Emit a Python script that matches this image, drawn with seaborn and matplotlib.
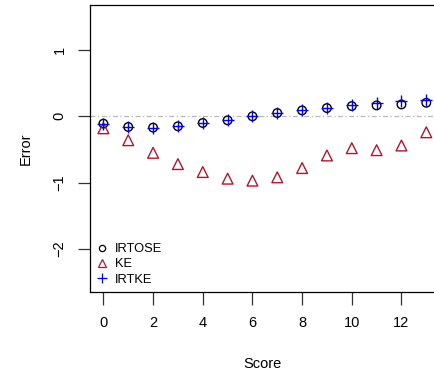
import numpy as np
import pandas as pd
import matplotlib
matplotlib.use("Agg")
import matplotlib.pyplot as plt
import seaborn as sns
from matplotlib.lines import Line2D

score = list(range(14))
irtose = [-0.11, -0.16, -0.17, -0.15, -0.10, -0.06, 0.00, 0.05, 0.09, 0.125, 0.155, 0.165, 0.18, 0.205]
ke = [-0.18, -0.36, -0.55, -0.72, -0.84, -0.94, -0.97, -0.92, -0.78, -0.59, -0.48, -0.51, -0.44, -0.24]
irtke = [-0.11, -0.16, -0.17, -0.15, -0.10, -0.05, 0.00, 0.05, 0.09, 0.13, 0.17, 0.20, 0.225, 0.24]
series_names = ["IRTOSE", "KE", "IRTKE"]
x_ticks = [0, 2, 4, 6, 8, 10, 12]
y_ticks = [-2, -1, 0, 1]

sns.set_theme(style="white")
plt.rcParams["font.family"] = ["Liberation Sans", "DejaVu Sans"]
plt.rcParams.update({"text.color": "black", "axes.labelcolor": "black",
                     "xtick.color": "black", "ytick.color": "black"})

df = pd.DataFrame({"Score": score, "IRTOSE": irtose, "KE": ke, "IRTKE": irtke})

fig = plt.figure(figsize=(4.34, 3.78), dpi=100)
ax = fig.add_axes([90 / 434, 86 / 378, 1 - 90 / 434, 287 / 378])

ax.axhline(0, color="#b8b8b8", lw=0.9, ls=(0, (4, 2, 1, 2)), zorder=0)

sns.scatterplot(data=df, x="Score", y="IRTOSE", ax=ax, marker="o", s=38,
                facecolors="none", edgecolor="black", linewidth=1.0, zorder=3)
sns.scatterplot(data=df, x="Score", y="KE", ax=ax, marker="^", s=60,
                facecolors="none", edgecolor="#b5152b", linewidth=1.0, zorder=3)
sns.scatterplot(data=df, x="Score", y="IRTKE", ax=ax, marker="+", s=75,
                color="blue", linewidth=1.0, zorder=4)

ax.set_xlim(-0.54, 13.31)
ax.set_ylim(-2.65, 1.68)
ax.set_xticks(x_ticks)
ax.set_yticks(y_ticks)
ax.set_yticklabels([str(v).replace("-", "\u2212") for v in y_ticks], rotation=90, va="center")
ax.tick_params(axis="both", direction="out", length=9, width=0.9, color="#333333",
               labelsize=10.5, pad=8, bottom=True, left=True, labelcolor="black")
ax.set_xlabel("Score", fontsize=10.5, labelpad=20, color="black")
ax.set_ylabel("Error", fontsize=10.5, labelpad=14, color="black")

for side in ["left", "bottom", "top"]:
    ax.spines[side].set_color("black")
    ax.spines[side].set_linewidth(0.9)
ax.spines["right"].set_visible(False)

handles = [
    Line2D([], [], ls="none", marker="o", ms=4.5, mfc="none", mec="black", mew=0.9),
    Line2D([], [], ls="none", marker="^", ms=5.5, mfc="none", mec="#b5152b", mew=0.9),
    Line2D([], [], ls="none", marker="+", ms=7, color="blue", mew=0.9),
]
ax.legend(handles, series_names, loc="lower left", frameon=False, fontsize=9.3,
          handlelength=0.8, handletextpad=0.6, labelspacing=0.24,
          borderaxespad=0.3, borderpad=0.2)

fig.savefig("out.png", dpi=100)
